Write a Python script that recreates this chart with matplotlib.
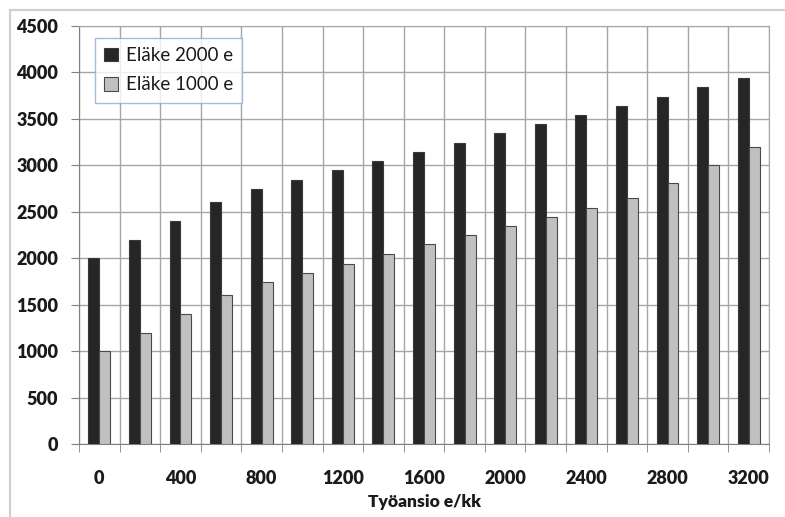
import matplotlib
matplotlib.use("Agg")
import matplotlib.pyplot as plt
from matplotlib.lines import Line2D
import numpy as np

# Työansio e/kk (luokat)
incomes = [0, 200, 400, 600, 800, 1000, 1200, 1400, 1600, 1800,
           2000, 2200, 2400, 2600, 2800, 3000, 3200]
# Eläke 2000 e
pension_2000 = [2000, 2200, 2400, 2600, 2745, 2840, 2945, 3045, 3140,
                3245, 3345, 3445, 3545, 3640, 3740, 3845, 3940]
# Eläke 1000 e
pension_1000 = [1000, 1200, 1400, 1600, 1740, 1845, 1940, 2045, 2150,
                2245, 2345, 2445, 2545, 2645, 2805, 3000, 3200]
y_ticks = [0, 500, 1000, 1500, 2000, 2500, 3000, 3500, 4000, 4500]

plt.rcParams['font.family'] = ['Lato', 'DejaVu Sans']

fig = plt.figure(figsize=(7.85, 5.17), dpi=100)
W, H = 785, 517
ax = fig.add_axes([79 / W, 1 - 444 / H, 690 / W, 418 / H])

# ulkokehys
fig.add_artist(Line2D([10 / W, 1.0], [1 - 10 / H, 1 - 10 / H], color='#cfcfcf', lw=1.5))
fig.add_artist(Line2D([10 / W, 10 / W], [1 - 10 / H, 0.0], color='#cfcfcf', lw=1.5))

x = np.arange(len(incomes))
w = 0.27
ax.bar(x - w / 2, pension_2000, w, color='#262626', edgecolor='#3a3a3a', lw=0.8,
       label='Eläke 2000 e', zorder=3)
ax.bar(x + w / 2, pension_1000, w, color='#c0c0c0', edgecolor='#4a4a4a', lw=0.8,
       label='Eläke 1000 e', zorder=3)

ax.set_xlim(-0.5, len(incomes) - 0.5)
ax.set_ylim(0, 4500)
ax.set_yticks(y_ticks)
ax.set_yticklabels([str(v) for v in y_ticks], fontsize=13, fontweight='heavy', color='#1a1a1a')

ax.set_xticks(x[::2])
ax.set_xticklabels([str(v) for v in incomes[::2]], fontsize=13, fontweight='heavy', color='#1a1a1a')
ax.set_xticks(np.arange(len(incomes) + 1) - 0.5, minor=True)
ax.tick_params(axis='x', which='major', length=0, pad=19)
ax.tick_params(axis='x', which='minor', length=6, color='#808080', direction='out')
ax.tick_params(axis='y', length=6, color='#808080', pad=9)

ax.grid(True, axis='y', which='major', color='#a6a6a6', lw=1, zorder=0)
ax.grid(True, axis='x', which='minor', color='#a6a6a6', lw=1, zorder=0)
ax.set_axisbelow(True)

for side in ['top', 'right']:
    ax.spines[side].set_color('#a6a6a6')
for side in ['left', 'bottom']:
    ax.spines[side].set_color('#808080')

ax.set_xlabel('Työansio e/kk', fontsize=12.5, fontweight='heavy', color='#1a1a1a', labelpad=5)

leg = ax.legend(loc='upper left', bbox_to_anchor=(0.023, 0.972), borderaxespad=0,
                fancybox=False, edgecolor='#8ea9d6', fontsize=13.5,
                handlelength=0.75, handleheight=0.75, handletextpad=0.4,
                labelspacing=0.65, borderpad=0.5)
leg.get_frame().set_linewidth(1.0)
for t in leg.get_texts():
    t.set_color('#1a1a1a')

fig.savefig('out.png', dpi=100)
